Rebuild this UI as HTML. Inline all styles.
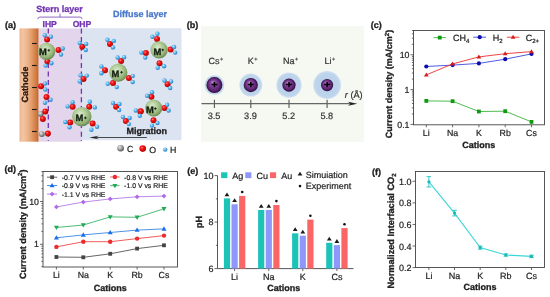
<!DOCTYPE html>
<html><head><meta charset="utf-8"><style>
html,body{margin:0;padding:0;background:#fff;width:550px;height:297px;overflow:hidden;font-family:"Liberation Sans",sans-serif;}
svg{display:block;will-change:transform;text-rendering:geometricPrecision}
</style></head><body>
<svg width="550" height="297" viewBox="0 0 550 297">
<defs>
 <linearGradient id="cath" x1="0" x2="1" y1="0" y2="0">
  <stop offset="0" stop-color="#eeb48e"/><stop offset="0.18" stop-color="#f4c4a2"/><stop offset="0.4" stop-color="#eeb68e"/><stop offset="0.68" stop-color="#e09662"/><stop offset="0.88" stop-color="#d07a42"/><stop offset="1" stop-color="#c0622a"/>
 </linearGradient>
 <radialGradient id="gM" cx="0.42" cy="0.38" r="0.62">
  <stop offset="0" stop-color="#dcecd0"/><stop offset="0.45" stop-color="#b2ce9a"/><stop offset="0.8" stop-color="#8eae72"/><stop offset="1" stop-color="#688850"/>
 </radialGradient>
 <radialGradient id="gO" cx="0.38" cy="0.35" r="0.65">
  <stop offset="0" stop-color="#ff9a9a"/><stop offset="0.3" stop-color="#ff1a1a"/><stop offset="1" stop-color="#b00000"/>
 </radialGradient>
 <radialGradient id="gH" cx="0.38" cy="0.35" r="0.65">
  <stop offset="0" stop-color="#d4f2ff"/><stop offset="0.4" stop-color="#62bcf0"/><stop offset="1" stop-color="#2a80c4"/>
 </radialGradient>
 <radialGradient id="gC" cx="0.38" cy="0.35" r="0.65">
  <stop offset="0" stop-color="#eeeeee"/><stop offset="0.45" stop-color="#a8a8a8"/><stop offset="1" stop-color="#5a5a5a"/>
 </radialGradient>
 <radialGradient id="gP" cx="0.5" cy="0.5" r="0.5" fx="0.38" fy="0.32">
  <stop offset="0" stop-color="#b68ac8"/><stop offset="0.35" stop-color="#86469e"/><stop offset="0.75" stop-color="#5e2672"/><stop offset="1" stop-color="#2c0c38"/>
 </radialGradient>
 <radialGradient id="gHalo" cx="0.5" cy="0.5" r="0.5">
  <stop offset="0" stop-color="#b6cfea"/><stop offset="0.85" stop-color="#bdd4ec"/><stop offset="1" stop-color="#d4e2f0"/>
 </radialGradient>
</defs><rect width="550" height="297" fill="#fff"/><text x="5" y="28.3" font-family="Liberation Sans, sans-serif" font-weight="bold" font-size="9" fill="#222" stroke="#222" stroke-width="0.3">(a)</text>
<text x="36.3" y="11.7" font-family="Liberation Sans, sans-serif" font-weight="bold" font-size="9" fill="#7234b2" stroke="#7234b2" stroke-width="0.3">Stern layer</text>
<path d="M37.8 19.2 Q37.8 17.1 39.8 17.1 L80.1 17.1 Q82.1 17.1 82.1 19.2 M60 17.1 L60 13.6" fill="none" stroke="#8656bc" stroke-width="0.9"/>
<text x="42.5" y="27" font-family="Liberation Sans, sans-serif" font-weight="bold" font-size="8.6" fill="#7234b2" stroke="#7234b2" stroke-width="0.3">IHP</text>
<text x="72.7" y="27" font-family="Liberation Sans, sans-serif" font-weight="bold" font-size="8.6" fill="#7234b2" stroke="#7234b2" stroke-width="0.3">OHP</text>
<text x="113.1" y="16.9" font-family="Liberation Sans, sans-serif" font-weight="bold" font-size="9" fill="#4a7acb" stroke="#4a7acb" stroke-width="0.3">Diffuse layer</text>
<rect x="82" y="28.2" width="99.5" height="112" fill="#dce3f1"/>
<rect x="38.5" y="28.4" width="43.5" height="113.3" fill="#e3d6ec"/>
<rect x="19.5" y="28.4" width="19" height="113.3" fill="url(#cath)"/>
<line x1="32" x2="36.8" y1="43.5" y2="43.5" stroke="#1a1a1a" stroke-width="1.1"/>
<line x1="32" x2="36.8" y1="65.5" y2="65.5" stroke="#1a1a1a" stroke-width="1.1"/>
<line x1="32" x2="36.8" y1="87.5" y2="87.5" stroke="#1a1a1a" stroke-width="1.1"/>
<line x1="32" x2="36.8" y1="109.5" y2="109.5" stroke="#1a1a1a" stroke-width="1.1"/>
<line x1="32" x2="36.8" y1="131.5" y2="131.5" stroke="#1a1a1a" stroke-width="1.1"/>
<text transform="translate(28.2,84.5) rotate(-90)" text-anchor="middle" font-family="Liberation Sans, sans-serif" font-weight="bold" font-size="9" fill="#2a1a10" stroke="#2a1a10" stroke-width="0.3">Cathode</text>
<line x1="48.3" x2="48.3" y1="28.5" y2="141" stroke="#7234b2" stroke-width="1.3" stroke-dasharray="5,3.6"/>
<line x1="81.4" x2="81.4" y1="28.5" y2="141" stroke="#7234b2" stroke-width="1.3" stroke-dasharray="5,3.6"/>
<circle cx="47.1" cy="39.4" r="3.0" fill="url(#gO)"/>
<circle cx="44.8" cy="35.3" r="2.2" fill="url(#gH)"/>
<circle cx="50.9" cy="36.8" r="2.2" fill="url(#gH)"/>
<circle cx="58.5" cy="50.0" r="3.0" fill="url(#gO)"/>
<circle cx="62.7" cy="48.5" r="2.2" fill="url(#gH)"/>
<circle cx="61.0" cy="54.5" r="2.2" fill="url(#gH)"/>
<circle cx="47.4" cy="61.4" r="3.0" fill="url(#gO)"/>
<circle cx="45.6" cy="65.6" r="2.2" fill="url(#gH)"/>
<circle cx="51.4" cy="63.2" r="2.2" fill="url(#gH)"/>
<circle cx="82.3" cy="46.7" r="3.0" fill="url(#gO)"/>
<circle cx="79.7" cy="42.9" r="2.2" fill="url(#gH)"/>
<circle cx="86.2" cy="43.9" r="2.2" fill="url(#gH)"/>
<circle cx="85.8" cy="50.0" r="2.2" fill="url(#gH)"/>
<circle cx="83.5" cy="78.9" r="3.0" fill="url(#gO)"/>
<circle cx="80.5" cy="75.3" r="2.2" fill="url(#gH)"/>
<circle cx="86.8" cy="75.6" r="2.2" fill="url(#gH)"/>
<circle cx="79.7" cy="81.4" r="2.2" fill="url(#gH)"/>
<circle cx="41.1" cy="86.2" r="3.0" fill="url(#gO)"/>
<circle cx="45.0" cy="83.5" r="2.2" fill="url(#gH)"/>
<circle cx="45.3" cy="89.5" r="2.2" fill="url(#gH)"/>
<circle cx="46.5" cy="97.1" r="3.0" fill="url(#gO)"/>
<circle cx="50.6" cy="99.7" r="2.2" fill="url(#gH)"/>
<circle cx="45.0" cy="102.7" r="2.2" fill="url(#gH)"/>
<circle cx="72.6" cy="106.8" r="3.0" fill="url(#gO)"/>
<circle cx="72.6" cy="102.3" r="2.2" fill="url(#gH)"/>
<circle cx="67.6" cy="106.4" r="2.2" fill="url(#gH)"/>
<circle cx="89.2" cy="106.8" r="3.0" fill="url(#gO)"/>
<circle cx="89.8" cy="101.8" r="2.2" fill="url(#gH)"/>
<circle cx="94.8" cy="107.4" r="2.2" fill="url(#gH)"/>
<circle cx="70.2" cy="122.4" r="3.0" fill="url(#gO)"/>
<circle cx="65.3" cy="122.0" r="2.2" fill="url(#gH)"/>
<circle cx="69.5" cy="127.3" r="2.2" fill="url(#gH)"/>
<circle cx="92.6" cy="123.6" r="3.0" fill="url(#gO)"/>
<circle cx="97.1" cy="126.7" r="2.2" fill="url(#gH)"/>
<circle cx="91.4" cy="129.7" r="2.2" fill="url(#gH)"/>
<circle cx="110.0" cy="43.9" r="3.0" fill="url(#gO)"/>
<circle cx="107.4" cy="39.8" r="2.2" fill="url(#gH)"/>
<circle cx="113.8" cy="40.9" r="2.2" fill="url(#gH)"/>
<circle cx="113.0" cy="47.4" r="2.2" fill="url(#gH)"/>
<circle cx="116.1" cy="106.7" r="3.0" fill="url(#gO)"/>
<circle cx="113.0" cy="102.9" r="2.2" fill="url(#gH)"/>
<circle cx="119.5" cy="104.0" r="2.2" fill="url(#gH)"/>
<circle cx="119.1" cy="110.0" r="2.2" fill="url(#gH)"/>
<circle cx="125.9" cy="121.1" r="3.0" fill="url(#gO)"/>
<circle cx="122.9" cy="117.0" r="2.2" fill="url(#gH)"/>
<circle cx="129.7" cy="118.0" r="2.2" fill="url(#gH)"/>
<circle cx="128.9" cy="124.1" r="2.2" fill="url(#gH)"/>
<circle cx="140.3" cy="111.5" r="3.0" fill="url(#gO)"/>
<circle cx="167.6" cy="84.2" r="3.0" fill="url(#gO)"/>
<circle cx="164.5" cy="80.5" r="2.2" fill="url(#gH)"/>
<circle cx="171.1" cy="81.5" r="2.2" fill="url(#gH)"/>
<circle cx="170.2" cy="88.0" r="2.2" fill="url(#gH)"/>
<circle cx="121.1" cy="61.1" r="3.0" fill="url(#gO)"/>
<circle cx="117.6" cy="57.5" r="2.2" fill="url(#gH)"/>
<circle cx="124.1" cy="57.2" r="2.2" fill="url(#gH)"/>
<circle cx="105.0" cy="70.2" r="3.0" fill="url(#gO)"/>
<circle cx="101.4" cy="66.4" r="2.2" fill="url(#gH)"/>
<circle cx="101.4" cy="73.2" r="2.2" fill="url(#gH)"/>
<circle cx="128.9" cy="78.0" r="3.0" fill="url(#gO)"/>
<circle cx="132.7" cy="75.9" r="2.2" fill="url(#gH)"/>
<circle cx="132.7" cy="82.0" r="2.2" fill="url(#gH)"/>
<circle cx="113.0" cy="83.0" r="3.0" fill="url(#gO)"/>
<circle cx="107.7" cy="83.8" r="2.2" fill="url(#gH)"/>
<circle cx="116.8" cy="87.1" r="2.2" fill="url(#gH)"/>
<circle cx="157.0" cy="38.9" r="3.0" fill="url(#gO)"/>
<circle cx="152.4" cy="36.8" r="2.2" fill="url(#gH)"/>
<circle cx="157.4" cy="33.8" r="2.2" fill="url(#gH)"/>
<circle cx="145.9" cy="53.0" r="3.0" fill="url(#gO)"/>
<circle cx="141.4" cy="52.6" r="2.2" fill="url(#gH)"/>
<circle cx="145.3" cy="57.6" r="2.2" fill="url(#gH)"/>
<circle cx="170.6" cy="49.5" r="3.0" fill="url(#gO)"/>
<circle cx="174.1" cy="47.0" r="2.2" fill="url(#gH)"/>
<circle cx="175.2" cy="52.6" r="2.2" fill="url(#gH)"/>
<circle cx="159.5" cy="63.2" r="3.0" fill="url(#gO)"/>
<circle cx="157.7" cy="67.7" r="2.2" fill="url(#gH)"/>
<circle cx="164.1" cy="66.2" r="2.2" fill="url(#gH)"/>
<circle cx="151.4" cy="96.8" r="3.0" fill="url(#gO)"/>
<circle cx="147.1" cy="95.8" r="2.2" fill="url(#gH)"/>
<circle cx="152.0" cy="92.3" r="2.2" fill="url(#gH)"/>
<circle cx="140.8" cy="111.2" r="3.0" fill="url(#gO)"/>
<circle cx="135.8" cy="110.5" r="2.2" fill="url(#gH)"/>
<circle cx="139.8" cy="115.8" r="2.2" fill="url(#gH)"/>
<circle cx="164.5" cy="107.9" r="3.0" fill="url(#gO)"/>
<circle cx="167.1" cy="104.8" r="2.2" fill="url(#gH)"/>
<circle cx="168.6" cy="110.5" r="2.2" fill="url(#gH)"/>
<circle cx="153.5" cy="120.3" r="3.0" fill="url(#gO)"/>
<circle cx="157.4" cy="123.0" r="2.2" fill="url(#gH)"/>
<circle cx="152.0" cy="125.6" r="2.2" fill="url(#gH)"/>
<circle cx="40.8" cy="113.9" r="2.9" fill="url(#gC)"/>
<circle cx="45.3" cy="111.4" r="3.0" fill="url(#gO)"/>
<circle cx="42.9" cy="118.9" r="3.0" fill="url(#gO)"/>
<circle cx="41.8" cy="134.1" r="2.9" fill="url(#gC)"/>
<circle cx="47.9" cy="133.6" r="3.0" fill="url(#gO)"/>
<circle cx="46.7" cy="51.3" r="8.6" fill="url(#gM)"/>
<text x="39.1" y="54.6" font-family="Liberation Sans, sans-serif" font-weight="bold" font-size="9.4" fill="#141e10" stroke="#141e10" stroke-width="0.3">M</text>
<path d="M47.5 50.35 h2.6 M48.8 49.050000000000004 v2.6" stroke="#141e10" stroke-width="0.9"/>
<circle cx="81.8" cy="116.6" r="9.7" fill="url(#gM)"/>
<text x="75.6" y="121.10000000000001" font-family="Liberation Sans, sans-serif" font-weight="bold" font-size="9.4" fill="#141e10" stroke="#141e10" stroke-width="0.3">M</text>
<path d="M84.10000000000001 117.9 h2.6 M85.4 116.60000000000001 v2.6" stroke="#141e10" stroke-width="0.9"/>
<circle cx="118.3" cy="72.6" r="9.1" fill="url(#gM)"/>
<text x="111.4" y="76.60000000000001" font-family="Liberation Sans, sans-serif" font-weight="bold" font-size="9.4" fill="#141e10" stroke="#141e10" stroke-width="0.3">M</text>
<path d="M120.2 72.3 h2.6 M121.5 71.0 v2.6" stroke="#141e10" stroke-width="0.9"/>
<circle cx="159.1" cy="49.9" r="8.6" fill="url(#gM)"/>
<text x="153.4" y="54.6" font-family="Liberation Sans, sans-serif" font-weight="bold" font-size="9.4" fill="#141e10" stroke="#141e10" stroke-width="0.3">M</text>
<path d="M161.39999999999998 49.9 h2.6 M162.7 48.6 v2.6" stroke="#141e10" stroke-width="0.9"/>
<circle cx="153.7" cy="108.0" r="8.6" fill="url(#gM)"/>
<text x="146.1" y="112.60000000000001" font-family="Liberation Sans, sans-serif" font-weight="bold" font-size="9.4" fill="#141e10" stroke="#141e10" stroke-width="0.3">M</text>
<path d="M154.0 108.6 h2.6 M155.3 107.3 v2.6" stroke="#141e10" stroke-width="0.9"/>
<line x1="92" x2="146.8" y1="137.5" y2="137.5" stroke="#4a4a4a" stroke-width="1.1"/>
<path d="M89.3 137.5 L99 135.8 L95.5 137.5 L99 139.2 Z" fill="#222"/>
<text x="126.5" y="133.7" font-family="Liberation Sans, sans-serif" font-weight="bold" font-size="9" fill="#1e1e1e" stroke="#1e1e1e" stroke-width="0.3">Migration</text>
<circle cx="120.6" cy="148.2" r="3.3" fill="url(#gC)"/>
<text x="127" y="152.3" font-family="Liberation Sans, sans-serif" font-size="8.8" fill="#222" stroke="#222" stroke-width="0.2">C</text>
<circle cx="142.7" cy="148.6" r="3.3" fill="url(#gO)"/>
<text x="149.3" y="152.9" font-family="Liberation Sans, sans-serif" font-size="8.8" fill="#222" stroke="#222" stroke-width="0.2">O</text>
<circle cx="165.2" cy="149.6" r="2.2" fill="url(#gH)"/>
<text x="170" y="152.9" font-family="Liberation Sans, sans-serif" font-size="8.8" fill="#222" stroke="#222" stroke-width="0.2">H</text>
<text x="186.8" y="28.3" font-family="Liberation Sans, sans-serif" font-weight="bold" font-size="9" fill="#222" stroke="#222" stroke-width="0.3">(b)</text>
<rect x="201" y="25.9" width="163" height="116.2" fill="#f6f8f2"/>
<circle cx="214.4" cy="85.1" r="10.0" fill="url(#gHalo)"/>
<circle cx="214.4" cy="85.1" r="8.0" fill="url(#gP)"/>
<path d="M211.4 84.6 h6 M214.4 81.9 v5.4" stroke="#000" stroke-width="1.5"/>
<text x="208.5" y="64.2" font-family="Liberation Sans, sans-serif" font-size="9" fill="#333" stroke="#333" stroke-width="0.2">Cs<tspan font-size="5.5" dy="-3.4" dx="0.4">+</tspan></text>
<line x1="214.4" x2="214.4" y1="99.8" y2="108" stroke="#555" stroke-width="1.1"/>
<text x="214.1" y="119.3" text-anchor="middle" font-family="Liberation Sans, sans-serif" font-size="9.2" fill="#333" stroke="#333" stroke-width="0.2">3.5</text>
<circle cx="250.8" cy="85.1" r="11.5" fill="url(#gHalo)"/>
<circle cx="250.8" cy="85.1" r="7.1" fill="url(#gP)"/>
<path d="M247.8 84.6 h6 M250.8 81.9 v5.4" stroke="#000" stroke-width="1.5"/>
<text x="247.8" y="64.2" font-family="Liberation Sans, sans-serif" font-size="9" fill="#333" stroke="#333" stroke-width="0.2">K<tspan font-size="5.5" dy="-3.4" dx="0.4">+</tspan></text>
<line x1="250.8" x2="250.8" y1="99.8" y2="108" stroke="#555" stroke-width="1.1"/>
<text x="250.5" y="119.3" text-anchor="middle" font-family="Liberation Sans, sans-serif" font-size="9.2" fill="#333" stroke="#333" stroke-width="0.2">3.9</text>
<circle cx="289.0" cy="85.1" r="12.7" fill="url(#gHalo)"/>
<circle cx="289.0" cy="85.1" r="6.6" fill="url(#gP)"/>
<path d="M286.0 84.6 h6 M289.0 81.9 v5.4" stroke="#000" stroke-width="1.5"/>
<text x="283" y="64.2" font-family="Liberation Sans, sans-serif" font-size="9" fill="#333" stroke="#333" stroke-width="0.2">Na<tspan font-size="5.5" dy="-3.4" dx="0.4">+</tspan></text>
<line x1="289.0" x2="289.0" y1="99.8" y2="108" stroke="#555" stroke-width="1.1"/>
<text x="288.7" y="119.3" text-anchor="middle" font-family="Liberation Sans, sans-serif" font-size="9.2" fill="#333" stroke="#333" stroke-width="0.2">5.2</text>
<circle cx="327.1" cy="85.1" r="14.0" fill="url(#gHalo)"/>
<circle cx="327.1" cy="85.1" r="6.1" fill="url(#gP)"/>
<path d="M324.1 84.6 h6 M327.1 81.9 v5.4" stroke="#000" stroke-width="1.5"/>
<text x="324.6" y="64.2" font-family="Liberation Sans, sans-serif" font-size="9" fill="#333" stroke="#333" stroke-width="0.2">Li<tspan font-size="5.5" dy="-3.4" dx="0.4">+</tspan></text>
<line x1="327.1" x2="327.1" y1="99.8" y2="108" stroke="#555" stroke-width="1.1"/>
<text x="326.8" y="119.3" text-anchor="middle" font-family="Liberation Sans, sans-serif" font-size="9.2" fill="#333" stroke="#333" stroke-width="0.2">5.8</text>
<line x1="201.5" x2="351" y1="103.7" y2="103.7" stroke="#666" stroke-width="1.2"/>
<path d="M357.3 103.8 L348 101.7 L350.5 103.8 L348 105.8 Z" fill="#222"/>
<text x="344.8" y="98.3" font-family="Liberation Sans, sans-serif" font-size="9.2" fill="#333" stroke="#333" stroke-width="0.2"><tspan font-style="italic">r</tspan> (Å)</text>
<text x="370.8" y="28.3" font-family="Liberation Sans, sans-serif" font-weight="bold" font-size="9" fill="#222" stroke="#222" stroke-width="0.3">(c)</text>
<rect x="413.5" y="30.5" width="131.0" height="94.3" fill="none" stroke="#444" stroke-width="0.9"/>
<line x1="410.5" x2="413.5" y1="124.40" y2="124.40" stroke="#444" stroke-width="0.8"/>
<line x1="411.9" x2="413.5" y1="113.92" y2="113.92" stroke="#444" stroke-width="0.8"/>
<line x1="411.9" x2="413.5" y1="107.80" y2="107.80" stroke="#444" stroke-width="0.8"/>
<line x1="411.9" x2="413.5" y1="103.45" y2="103.45" stroke="#444" stroke-width="0.8"/>
<line x1="411.9" x2="413.5" y1="100.08" y2="100.08" stroke="#444" stroke-width="0.8"/>
<line x1="411.9" x2="413.5" y1="97.32" y2="97.32" stroke="#444" stroke-width="0.8"/>
<line x1="411.9" x2="413.5" y1="94.99" y2="94.99" stroke="#444" stroke-width="0.8"/>
<line x1="411.9" x2="413.5" y1="92.97" y2="92.97" stroke="#444" stroke-width="0.8"/>
<line x1="411.9" x2="413.5" y1="91.19" y2="91.19" stroke="#444" stroke-width="0.8"/>
<line x1="410.5" x2="413.5" y1="89.60" y2="89.60" stroke="#444" stroke-width="0.8"/>
<line x1="411.9" x2="413.5" y1="79.12" y2="79.12" stroke="#444" stroke-width="0.8"/>
<line x1="411.9" x2="413.5" y1="73.00" y2="73.00" stroke="#444" stroke-width="0.8"/>
<line x1="411.9" x2="413.5" y1="68.65" y2="68.65" stroke="#444" stroke-width="0.8"/>
<line x1="411.9" x2="413.5" y1="65.28" y2="65.28" stroke="#444" stroke-width="0.8"/>
<line x1="411.9" x2="413.5" y1="62.52" y2="62.52" stroke="#444" stroke-width="0.8"/>
<line x1="411.9" x2="413.5" y1="60.19" y2="60.19" stroke="#444" stroke-width="0.8"/>
<line x1="411.9" x2="413.5" y1="58.17" y2="58.17" stroke="#444" stroke-width="0.8"/>
<line x1="411.9" x2="413.5" y1="56.39" y2="56.39" stroke="#444" stroke-width="0.8"/>
<line x1="410.5" x2="413.5" y1="54.80" y2="54.80" stroke="#444" stroke-width="0.8"/>
<line x1="411.9" x2="413.5" y1="44.32" y2="44.32" stroke="#444" stroke-width="0.8"/>
<line x1="411.9" x2="413.5" y1="38.20" y2="38.20" stroke="#444" stroke-width="0.8"/>
<line x1="411.9" x2="413.5" y1="33.85" y2="33.85" stroke="#444" stroke-width="0.8"/>
<line x1="411.9" x2="413.5" y1="30.48" y2="30.48" stroke="#444" stroke-width="0.8"/>
<text x="409.5" y="57.90" text-anchor="end" font-family="Liberation Sans, sans-serif" font-size="8.8" fill="#222" stroke="#222" stroke-width="0.2">10</text>
<text x="409.5" y="92.70" text-anchor="end" font-family="Liberation Sans, sans-serif" font-size="8.8" fill="#222" stroke="#222" stroke-width="0.2">1</text>
<text x="409.5" y="127.50" text-anchor="end" font-family="Liberation Sans, sans-serif" font-size="8.8" fill="#222" stroke="#222" stroke-width="0.2">0.1</text>
<line x1="426.3" x2="426.3" y1="124.8" y2="127.3" stroke="#444" stroke-width="0.8"/>
<text x="426.3" y="135.8" text-anchor="middle" font-family="Liberation Sans, sans-serif" font-size="8.8" fill="#222" stroke="#222" stroke-width="0.2">Li</text>
<line x1="452.6" x2="452.6" y1="124.8" y2="127.3" stroke="#444" stroke-width="0.8"/>
<text x="452.6" y="135.8" text-anchor="middle" font-family="Liberation Sans, sans-serif" font-size="8.8" fill="#222" stroke="#222" stroke-width="0.2">Na</text>
<line x1="478.90000000000003" x2="478.90000000000003" y1="124.8" y2="127.3" stroke="#444" stroke-width="0.8"/>
<text x="478.90000000000003" y="135.8" text-anchor="middle" font-family="Liberation Sans, sans-serif" font-size="8.8" fill="#222" stroke="#222" stroke-width="0.2">K</text>
<line x1="505.20000000000005" x2="505.20000000000005" y1="124.8" y2="127.3" stroke="#444" stroke-width="0.8"/>
<text x="505.20000000000005" y="135.8" text-anchor="middle" font-family="Liberation Sans, sans-serif" font-size="8.8" fill="#222" stroke="#222" stroke-width="0.2">Rb</text>
<line x1="531.5" x2="531.5" y1="124.8" y2="127.3" stroke="#444" stroke-width="0.8"/>
<text x="531.5" y="135.8" text-anchor="middle" font-family="Liberation Sans, sans-serif" font-size="8.8" fill="#222" stroke="#222" stroke-width="0.2">Cs</text>
<text x="478.7" y="147.9" text-anchor="middle" font-family="Liberation Sans, sans-serif" font-weight="bold" font-size="9" fill="#222" stroke="#222" stroke-width="0.3">Cations</text>
<text transform="translate(392.3,84) rotate(-90)" text-anchor="middle" font-family="Liberation Sans, sans-serif" font-weight="bold" font-size="9" fill="#222" stroke="#222" stroke-width="0.3">Current density (mA/cm<tspan font-size="6" dy="-3.5">2</tspan><tspan dy="3.5">)</tspan></text>
<polyline points="426.3,100.9 452.6,101.2 478.9,111.5 505.2,111.2 531.5,121.9" fill="none" stroke="#3cb43c" stroke-width="0.9"/>
<rect x="424.40" y="99.00" width="3.8" height="3.8" fill="#109810"/>
<rect x="450.70" y="99.30" width="3.8" height="3.8" fill="#109810"/>
<rect x="477.00" y="109.60" width="3.8" height="3.8" fill="#109810"/>
<rect x="503.30" y="109.30" width="3.8" height="3.8" fill="#109810"/>
<rect x="529.60" y="120.00" width="3.8" height="3.8" fill="#109810"/>
<polyline points="426.3,66.5 452.6,65.1 478.9,63.4 505.2,59.2 531.5,53.9" fill="none" stroke="#3a4ae0" stroke-width="0.9"/>
<circle cx="426.30" cy="66.50" r="2.1" fill="#0c0cb0"/>
<circle cx="452.60" cy="65.10" r="2.1" fill="#0c0cb0"/>
<circle cx="478.90" cy="63.40" r="2.1" fill="#0c0cb0"/>
<circle cx="505.20" cy="59.20" r="2.1" fill="#0c0cb0"/>
<circle cx="531.50" cy="53.90" r="2.1" fill="#0c0cb0"/>
<polyline points="426.3,74.9 452.6,63.9 478.9,56.9 505.2,53.7 531.5,51.6" fill="none" stroke="#ee3030" stroke-width="0.9"/>
<path d="M426.30 72.45 L428.65 76.54 L423.95 76.54 Z" fill="#d81c1c"/>
<path d="M452.60 61.45 L454.95 65.54 L450.25 65.54 Z" fill="#d81c1c"/>
<path d="M478.90 54.45 L481.25 58.54 L476.55 58.54 Z" fill="#d81c1c"/>
<path d="M505.20 51.25 L507.55 55.34 L502.85 55.34 Z" fill="#d81c1c"/>
<path d="M531.50 49.15 L533.85 53.24 L529.15 53.24 Z" fill="#d81c1c"/>
<line x1="433.6" x2="445.9" y1="37.6" y2="37.6" stroke="#3cb43c" stroke-width="0.9"/>
<rect x="437.85" y="35.70" width="3.8" height="3.8" fill="#109810"/>
<text x="452.9" y="41" font-family="Liberation Sans, sans-serif" font-size="9" fill="#222" stroke="#222" stroke-width="0.2">CH<tspan font-size="6" dy="1.8">4</tspan></text>
<line x1="473.2" x2="486.1" y1="37.2" y2="37.2" stroke="#3a4ae0" stroke-width="0.9"/>
<circle cx="479.70" cy="37.20" r="2.1" fill="#0c0cb0"/>
<text x="492.8" y="41" font-family="Liberation Sans, sans-serif" font-size="9" fill="#222" stroke="#222" stroke-width="0.2">H<tspan font-size="6" dy="1.8">2</tspan></text>
<line x1="506.8" x2="519.4" y1="37.2" y2="37.2" stroke="#ee3030" stroke-width="0.9"/>
<path d="M513.10 34.75 L515.45 38.84 L510.75 38.84 Z" fill="#d81c1c"/>
<text x="525.7" y="41" font-family="Liberation Sans, sans-serif" font-size="9" fill="#222" stroke="#222" stroke-width="0.2">C<tspan font-size="6" dy="1.8">2+</tspan></text>
<text x="4.4" y="172.2" font-family="Liberation Sans, sans-serif" font-weight="bold" font-size="9" fill="#222" stroke="#222" stroke-width="0.3">(d)</text>
<rect x="43.0" y="171.5" width="134.5" height="95.5" fill="none" stroke="#444" stroke-width="0.9"/>
<line x1="41.4" x2="43.0" y1="266.68" y2="266.68" stroke="#444" stroke-width="0.8"/>
<line x1="41.4" x2="43.0" y1="261.33" y2="261.33" stroke="#444" stroke-width="0.8"/>
<line x1="41.4" x2="43.0" y1="257.18" y2="257.18" stroke="#444" stroke-width="0.8"/>
<line x1="41.4" x2="43.0" y1="253.80" y2="253.80" stroke="#444" stroke-width="0.8"/>
<line x1="41.4" x2="43.0" y1="250.93" y2="250.93" stroke="#444" stroke-width="0.8"/>
<line x1="41.4" x2="43.0" y1="248.45" y2="248.45" stroke="#444" stroke-width="0.8"/>
<line x1="41.4" x2="43.0" y1="246.26" y2="246.26" stroke="#444" stroke-width="0.8"/>
<line x1="40.0" x2="43.0" y1="244.30" y2="244.30" stroke="#444" stroke-width="0.8"/>
<line x1="41.4" x2="43.0" y1="231.42" y2="231.42" stroke="#444" stroke-width="0.8"/>
<line x1="41.4" x2="43.0" y1="223.88" y2="223.88" stroke="#444" stroke-width="0.8"/>
<line x1="41.4" x2="43.0" y1="218.53" y2="218.53" stroke="#444" stroke-width="0.8"/>
<line x1="41.4" x2="43.0" y1="214.38" y2="214.38" stroke="#444" stroke-width="0.8"/>
<line x1="41.4" x2="43.0" y1="211.00" y2="211.00" stroke="#444" stroke-width="0.8"/>
<line x1="41.4" x2="43.0" y1="208.13" y2="208.13" stroke="#444" stroke-width="0.8"/>
<line x1="41.4" x2="43.0" y1="205.65" y2="205.65" stroke="#444" stroke-width="0.8"/>
<line x1="41.4" x2="43.0" y1="203.46" y2="203.46" stroke="#444" stroke-width="0.8"/>
<line x1="40.0" x2="43.0" y1="201.50" y2="201.50" stroke="#444" stroke-width="0.8"/>
<line x1="41.4" x2="43.0" y1="188.62" y2="188.62" stroke="#444" stroke-width="0.8"/>
<line x1="41.4" x2="43.0" y1="181.08" y2="181.08" stroke="#444" stroke-width="0.8"/>
<line x1="41.4" x2="43.0" y1="175.73" y2="175.73" stroke="#444" stroke-width="0.8"/>
<line x1="41.4" x2="43.0" y1="171.58" y2="171.58" stroke="#444" stroke-width="0.8"/>
<text x="39.0" y="204.60" text-anchor="end" font-family="Liberation Sans, sans-serif" font-size="8.8" fill="#222" stroke="#222" stroke-width="0.2">10</text>
<text x="39.0" y="247.40" text-anchor="end" font-family="Liberation Sans, sans-serif" font-size="8.8" fill="#222" stroke="#222" stroke-width="0.2">1</text>
<line x1="56.4" x2="56.4" y1="267.0" y2="269.5" stroke="#444" stroke-width="0.8"/>
<text x="56.4" y="278.2" text-anchor="middle" font-family="Liberation Sans, sans-serif" font-size="8.8" fill="#222" stroke="#222" stroke-width="0.2">Li</text>
<line x1="83.3" x2="83.3" y1="267.0" y2="269.5" stroke="#444" stroke-width="0.8"/>
<text x="83.3" y="278.2" text-anchor="middle" font-family="Liberation Sans, sans-serif" font-size="8.8" fill="#222" stroke="#222" stroke-width="0.2">Na</text>
<line x1="110.19999999999999" x2="110.19999999999999" y1="267.0" y2="269.5" stroke="#444" stroke-width="0.8"/>
<text x="110.19999999999999" y="278.2" text-anchor="middle" font-family="Liberation Sans, sans-serif" font-size="8.8" fill="#222" stroke="#222" stroke-width="0.2">K</text>
<line x1="137.1" x2="137.1" y1="267.0" y2="269.5" stroke="#444" stroke-width="0.8"/>
<text x="137.1" y="278.2" text-anchor="middle" font-family="Liberation Sans, sans-serif" font-size="8.8" fill="#222" stroke="#222" stroke-width="0.2">Rb</text>
<line x1="164.0" x2="164.0" y1="267.0" y2="269.5" stroke="#444" stroke-width="0.8"/>
<text x="164.0" y="278.2" text-anchor="middle" font-family="Liberation Sans, sans-serif" font-size="8.8" fill="#222" stroke="#222" stroke-width="0.2">Cs</text>
<text x="110.2" y="290.8" text-anchor="middle" font-family="Liberation Sans, sans-serif" font-weight="bold" font-size="9" fill="#222" stroke="#222" stroke-width="0.3">Cations</text>
<text transform="translate(25.8,224.3) rotate(-90)" text-anchor="middle" font-family="Liberation Sans, sans-serif" font-weight="bold" font-size="9.1" fill="#222" stroke="#222" stroke-width="0.3">Current density (mA/cm<tspan font-size="6" dy="-3.5">2</tspan><tspan dy="3.5">)</tspan></text>
<polyline points="56.4,257.0 83.3,257.3 110.2,253.8 137.1,248.6 164.0,245.3" fill="none" stroke="#555" stroke-width="0.9"/>
<rect x="54.50" y="255.10" width="3.8" height="3.8" fill="#444"/>
<rect x="81.40" y="255.40" width="3.8" height="3.8" fill="#444"/>
<rect x="108.30" y="251.90" width="3.8" height="3.8" fill="#444"/>
<rect x="135.20" y="246.70" width="3.8" height="3.8" fill="#444"/>
<rect x="162.10" y="243.40" width="3.8" height="3.8" fill="#444"/>
<polyline points="56.4,246.9 83.3,241.7 110.2,241.7 137.1,238.6 164.0,235.6" fill="none" stroke="#f04848" stroke-width="0.9"/>
<circle cx="56.40" cy="246.90" r="2.2" fill="#ee2a2a"/>
<circle cx="83.30" cy="241.70" r="2.2" fill="#ee2a2a"/>
<circle cx="110.20" cy="241.70" r="2.2" fill="#ee2a2a"/>
<circle cx="137.10" cy="238.60" r="2.2" fill="#ee2a2a"/>
<circle cx="164.00" cy="235.60" r="2.2" fill="#ee2a2a"/>
<polyline points="56.4,237.8 83.3,234.9 110.2,232.5 137.1,230.1 164.0,228.9" fill="none" stroke="#3a86e8" stroke-width="0.9"/>
<path d="M56.40 235.19 L58.90 239.54 L53.90 239.54 Z" fill="#1a6ee8"/>
<path d="M83.30 232.29 L85.80 236.64 L80.80 236.64 Z" fill="#1a6ee8"/>
<path d="M110.20 229.89 L112.70 234.24 L107.70 234.24 Z" fill="#1a6ee8"/>
<path d="M137.10 227.49 L139.60 231.84 L134.60 231.84 Z" fill="#1a6ee8"/>
<path d="M164.00 226.29 L166.50 230.64 L161.50 230.64 Z" fill="#1a6ee8"/>
<polyline points="56.4,227.5 83.3,225.0 110.2,216.9 137.1,217.3 164.0,208.8" fill="none" stroke="#3ab46a" stroke-width="0.9"/>
<path d="M56.40 230.11 L58.90 225.76 L53.90 225.76 Z" fill="#22aa55"/>
<path d="M83.30 227.61 L85.80 223.26 L80.80 223.26 Z" fill="#22aa55"/>
<path d="M110.20 219.51 L112.70 215.16 L107.70 215.16 Z" fill="#22aa55"/>
<path d="M137.10 219.91 L139.60 215.56 L134.60 215.56 Z" fill="#22aa55"/>
<path d="M164.00 211.41 L166.50 207.06 L161.50 207.06 Z" fill="#22aa55"/>
<polyline points="56.4,206.9 83.3,202.1 110.2,198.9 137.1,196.8 164.0,196.1" fill="none" stroke="#b47ae8" stroke-width="0.9"/>
<path d="M56.40 204.50 L58.80 206.90 L56.40 209.30 L54.00 206.90 Z" fill="#b06ae6"/>
<path d="M83.30 199.70 L85.70 202.10 L83.30 204.50 L80.90 202.10 Z" fill="#b06ae6"/>
<path d="M110.20 196.50 L112.60 198.90 L110.20 201.30 L107.80 198.90 Z" fill="#b06ae6"/>
<path d="M137.10 194.40 L139.50 196.80 L137.10 199.20 L134.70 196.80 Z" fill="#b06ae6"/>
<path d="M164.00 193.70 L166.40 196.10 L164.00 198.50 L161.60 196.10 Z" fill="#b06ae6"/>
<line x1="47" x2="57.2" y1="177.2" y2="177.2" stroke="#555" stroke-width="0.9"/>
<rect x="50.20" y="175.30" width="3.8" height="3.8" fill="#444"/>
<text x="61.8" y="179.7" font-family="Liberation Sans, sans-serif" font-size="6.9" fill="#222" stroke="#222" stroke-width="0.2">-0.7 V vs RHE</text>
<line x1="47" x2="57.2" y1="185.5" y2="185.5" stroke="#3a86e8" stroke-width="0.9"/>
<path d="M52.10 182.89 L54.60 187.24 L49.60 187.24 Z" fill="#1a6ee8"/>
<text x="61.8" y="188.0" font-family="Liberation Sans, sans-serif" font-size="6.9" fill="#222" stroke="#222" stroke-width="0.2">-0.9 V vs RHE</text>
<line x1="47" x2="57.2" y1="194.1" y2="194.1" stroke="#b47ae8" stroke-width="0.9"/>
<path d="M52.10 191.70 L54.50 194.10 L52.10 196.50 L49.70 194.10 Z" fill="#b06ae6"/>
<text x="61.8" y="196.6" font-family="Liberation Sans, sans-serif" font-size="6.9" fill="#222" stroke="#222" stroke-width="0.2">-1.1 V vs RHE</text>
<line x1="110.1" x2="119.5" y1="177.0" y2="177.0" stroke="#f04848" stroke-width="0.9"/>
<circle cx="114.90" cy="177.00" r="2.2" fill="#ee2a2a"/>
<text x="124.1" y="179.5" font-family="Liberation Sans, sans-serif" font-size="6.9" fill="#222" stroke="#222" stroke-width="0.2">-0.8 V vs RHE</text>
<line x1="110.1" x2="119.5" y1="185.7" y2="185.7" stroke="#3ab46a" stroke-width="0.9"/>
<path d="M114.90 188.31 L117.40 183.96 L112.40 183.96 Z" fill="#22aa55"/>
<text x="124.1" y="188.2" font-family="Liberation Sans, sans-serif" font-size="6.9" fill="#222" stroke="#222" stroke-width="0.2">-1.0 V vs RHE</text>
<text x="187.2" y="173.7" font-family="Liberation Sans, sans-serif" font-weight="bold" font-size="9" fill="#222" stroke="#222" stroke-width="0.3">(e)</text>
<line x1="217.5" x2="217.5" y1="175.6" y2="268.6" stroke="#444" stroke-width="0.9"/>
<line x1="217.5" x2="353.5" y1="268.6" y2="268.6" stroke="#444" stroke-width="0.9"/>
<line x1="214.5" x2="217.5" y1="268.60" y2="268.60" stroke="#444" stroke-width="0.8"/>
<text x="213.5" y="271.80" text-anchor="end" font-family="Liberation Sans, sans-serif" font-size="9" fill="#222" stroke="#222" stroke-width="0.2">6</text>
<line x1="215.9" x2="217.5" y1="245.35" y2="245.35" stroke="#444" stroke-width="0.8"/>
<line x1="214.5" x2="217.5" y1="222.10" y2="222.10" stroke="#444" stroke-width="0.8"/>
<text x="213.5" y="225.30" text-anchor="end" font-family="Liberation Sans, sans-serif" font-size="9" fill="#222" stroke="#222" stroke-width="0.2">8</text>
<line x1="215.9" x2="217.5" y1="198.85" y2="198.85" stroke="#444" stroke-width="0.8"/>
<line x1="214.5" x2="217.5" y1="175.60" y2="175.60" stroke="#444" stroke-width="0.8"/>
<text x="213.5" y="178.80" text-anchor="end" font-family="Liberation Sans, sans-serif" font-size="9" fill="#222" stroke="#222" stroke-width="0.2">10</text>
<text transform="translate(201.8,222) rotate(-90)" text-anchor="middle" font-family="Liberation Sans, sans-serif" font-weight="bold" font-size="9" fill="#222" stroke="#222" stroke-width="0.3">pH</text>
<rect x="223.90" y="198.40" width="6.2" height="70.20" fill="#1cc4b8"/>
<path d="M227.00 192.40 L229.40 196.20 L224.60 196.20 Z" fill="#1a1a1a"/>
<rect x="231.50" y="204.30" width="6.2" height="64.30" fill="#8f97fa"/>
<path d="M234.60 198.30 L237.00 202.10 L232.20 202.10 Z" fill="#1a1a1a"/>
<rect x="239.10" y="195.90" width="6.2" height="72.70" fill="#fa6666"/>
<circle cx="242.20" cy="192.00" r="1.3" fill="#111"/>
<line x1="234.6" x2="234.6" y1="268.6" y2="271.1" stroke="#444" stroke-width="0.8"/>
<text x="234.6" y="280.1" text-anchor="middle" font-family="Liberation Sans, sans-serif" font-size="9" fill="#222" stroke="#222" stroke-width="0.2">Li</text>
<rect x="258.10" y="210.00" width="6.2" height="58.60" fill="#1cc4b8"/>
<path d="M261.20 204.00 L263.60 207.80 L258.80 207.80 Z" fill="#1a1a1a"/>
<rect x="265.70" y="210.00" width="6.2" height="58.60" fill="#8f97fa"/>
<path d="M268.80 204.00 L271.20 207.80 L266.40 207.80 Z" fill="#1a1a1a"/>
<rect x="273.30" y="205.00" width="6.2" height="63.60" fill="#fa6666"/>
<circle cx="276.40" cy="201.10" r="1.3" fill="#111"/>
<line x1="268.8" x2="268.8" y1="268.6" y2="271.1" stroke="#444" stroke-width="0.8"/>
<text x="268.8" y="280.1" text-anchor="middle" font-family="Liberation Sans, sans-serif" font-size="9" fill="#222" stroke="#222" stroke-width="0.2">Na</text>
<rect x="292.10" y="233.30" width="6.2" height="35.30" fill="#1cc4b8"/>
<path d="M295.20 227.30 L297.60 231.10 L292.80 231.10 Z" fill="#1a1a1a"/>
<rect x="299.70" y="235.70" width="6.2" height="32.90" fill="#8f97fa"/>
<path d="M302.80 229.70 L305.20 233.50 L300.40 233.50 Z" fill="#1a1a1a"/>
<rect x="307.30" y="219.60" width="6.2" height="49.00" fill="#fa6666"/>
<circle cx="310.40" cy="215.70" r="1.3" fill="#111"/>
<line x1="302.8" x2="302.8" y1="268.6" y2="271.1" stroke="#444" stroke-width="0.8"/>
<text x="302.8" y="280.1" text-anchor="middle" font-family="Liberation Sans, sans-serif" font-size="9" fill="#222" stroke="#222" stroke-width="0.2">K</text>
<rect x="326.20" y="242.80" width="6.2" height="25.80" fill="#1cc4b8"/>
<path d="M329.30 236.80 L331.70 240.60 L326.90 240.60 Z" fill="#1a1a1a"/>
<rect x="333.80" y="245.10" width="6.2" height="23.50" fill="#8f97fa"/>
<path d="M336.90 239.10 L339.30 242.90 L334.50 242.90 Z" fill="#1a1a1a"/>
<rect x="341.40" y="228.10" width="6.2" height="40.50" fill="#fa6666"/>
<circle cx="344.50" cy="224.20" r="1.3" fill="#111"/>
<line x1="336.9" x2="336.9" y1="268.6" y2="271.1" stroke="#444" stroke-width="0.8"/>
<text x="336.9" y="280.1" text-anchor="middle" font-family="Liberation Sans, sans-serif" font-size="9" fill="#222" stroke="#222" stroke-width="0.2">Cs</text>
<text x="283.7" y="290.8" text-anchor="middle" font-family="Liberation Sans, sans-serif" font-weight="bold" font-size="9" fill="#222" stroke="#222" stroke-width="0.3">Cations</text>
<rect x="221.1" y="172.3" width="6.3" height="5.8" fill="#1cc4b8"/>
<text x="232.2" y="178.6" font-family="Liberation Sans, sans-serif" font-size="9" fill="#222" stroke="#222" stroke-width="0.2">Ag</text>
<rect x="245.3" y="172.3" width="6.1" height="5.8" fill="#8f97fa"/>
<text x="256.5" y="178.6" font-family="Liberation Sans, sans-serif" font-size="9" fill="#222" stroke="#222" stroke-width="0.2">Cu</text>
<rect x="270" y="172.3" width="6.1" height="5.8" fill="#fa6666"/>
<text x="281.2" y="178.6" font-family="Liberation Sans, sans-serif" font-size="9" fill="#222" stroke="#222" stroke-width="0.2">Au</text>
<path d="M300 171.8 L302.4 175.6 L297.6 175.6 Z" fill="#1a1a1a"/>
<text x="305.8" y="178.2" font-family="Liberation Sans, sans-serif" font-size="9" fill="#222" stroke="#222" stroke-width="0.2">Simuiation</text>
<circle cx="300" cy="186.1" r="1.3" fill="#111"/>
<text x="305.8" y="189.2" font-family="Liberation Sans, sans-serif" font-size="9" fill="#222" stroke="#222" stroke-width="0.2">Experiment</text>
<text x="372" y="174.5" font-family="Liberation Sans, sans-serif" font-weight="bold" font-size="9" fill="#222" stroke="#222" stroke-width="0.3">(f)</text>
<rect x="415.5" y="171.5" width="129.0" height="96.0" fill="none" stroke="#444" stroke-width="0.9"/>
<line x1="412.5" x2="415.5" y1="267.60" y2="267.60" stroke="#444" stroke-width="0.8"/>
<text x="411.5" y="271.20" text-anchor="end" font-family="Liberation Sans, sans-serif" font-size="9" fill="#222" stroke="#222" stroke-width="0.2">0.2</text>
<line x1="412.5" x2="415.5" y1="246.02" y2="246.02" stroke="#444" stroke-width="0.8"/>
<text x="411.5" y="249.62" text-anchor="end" font-family="Liberation Sans, sans-serif" font-size="9" fill="#222" stroke="#222" stroke-width="0.2">0.4</text>
<line x1="412.5" x2="415.5" y1="224.44" y2="224.44" stroke="#444" stroke-width="0.8"/>
<text x="411.5" y="228.04" text-anchor="end" font-family="Liberation Sans, sans-serif" font-size="9" fill="#222" stroke="#222" stroke-width="0.2">0.6</text>
<line x1="412.5" x2="415.5" y1="202.86" y2="202.86" stroke="#444" stroke-width="0.8"/>
<text x="411.5" y="206.46" text-anchor="end" font-family="Liberation Sans, sans-serif" font-size="9" fill="#222" stroke="#222" stroke-width="0.2">0.8</text>
<line x1="412.5" x2="415.5" y1="181.28" y2="181.28" stroke="#444" stroke-width="0.8"/>
<text x="411.5" y="184.88" text-anchor="end" font-family="Liberation Sans, sans-serif" font-size="9" fill="#222" stroke="#222" stroke-width="0.2">1.0</text>
<line x1="428.9" x2="428.9" y1="267.5" y2="270.0" stroke="#444" stroke-width="0.8"/>
<text x="428.9" y="278.8" text-anchor="middle" font-family="Liberation Sans, sans-serif" font-size="9" fill="#222" stroke="#222" stroke-width="0.2">Li</text>
<line x1="454.5" x2="454.5" y1="267.5" y2="270.0" stroke="#444" stroke-width="0.8"/>
<text x="454.5" y="278.8" text-anchor="middle" font-family="Liberation Sans, sans-serif" font-size="9" fill="#222" stroke="#222" stroke-width="0.2">Na</text>
<line x1="480.2" x2="480.2" y1="267.5" y2="270.0" stroke="#444" stroke-width="0.8"/>
<text x="480.2" y="278.8" text-anchor="middle" font-family="Liberation Sans, sans-serif" font-size="9" fill="#222" stroke="#222" stroke-width="0.2">K</text>
<line x1="505.8" x2="505.8" y1="267.5" y2="270.0" stroke="#444" stroke-width="0.8"/>
<text x="505.8" y="278.8" text-anchor="middle" font-family="Liberation Sans, sans-serif" font-size="9" fill="#222" stroke="#222" stroke-width="0.2">Rb</text>
<line x1="531.5" x2="531.5" y1="267.5" y2="270.0" stroke="#444" stroke-width="0.8"/>
<text x="531.5" y="278.8" text-anchor="middle" font-family="Liberation Sans, sans-serif" font-size="9" fill="#222" stroke="#222" stroke-width="0.2">Cs</text>
<text x="480" y="289.6" text-anchor="middle" font-family="Liberation Sans, sans-serif" font-weight="bold" font-size="9" fill="#222" stroke="#222" stroke-width="0.3">Cations</text>
<text transform="translate(394,231) rotate(-90)" text-anchor="middle" font-family="Liberation Sans, sans-serif" font-weight="bold" font-size="9.2" fill="#222" stroke="#222" stroke-width="0.3">Normalized Interfacial CO<tspan font-size="6" dy="2">2</tspan></text>
<polyline points="428.9,181.8 454.5,213.1 480.2,247.6 505.8,255.0 531.5,256.4" fill="none" stroke="#3dd6d6" stroke-width="1.1"/>
<path d="M426.60 176.60 h4.6 M426.60 187.00 h4.6 M428.90 176.60 V187.00" stroke="#22c4c4" stroke-width="0.9" fill="none"/>
<circle cx="428.90" cy="181.80" r="1.6" fill="#18b8b8"/>
<path d="M452.25 210.30 h4.6 M452.25 215.90 h4.6 M454.55 210.30 V215.90" stroke="#22c4c4" stroke-width="0.9" fill="none"/>
<circle cx="454.55" cy="213.10" r="1.6" fill="#18b8b8"/>
<path d="M477.90 246.00 h4.6 M477.90 249.20 h4.6 M480.20 246.00 V249.20" stroke="#22c4c4" stroke-width="0.9" fill="none"/>
<circle cx="480.20" cy="247.60" r="1.6" fill="#18b8b8"/>
<path d="M503.55 253.80 h4.6 M503.55 256.20 h4.6 M505.85 253.80 V256.20" stroke="#22c4c4" stroke-width="0.9" fill="none"/>
<circle cx="505.85" cy="255.00" r="1.6" fill="#18b8b8"/>
<path d="M529.20 255.20 h4.6 M529.20 257.60 h4.6 M531.50 255.20 V257.60" stroke="#22c4c4" stroke-width="0.9" fill="none"/>
<circle cx="531.50" cy="256.40" r="1.6" fill="#18b8b8"/></svg>
</body></html>
